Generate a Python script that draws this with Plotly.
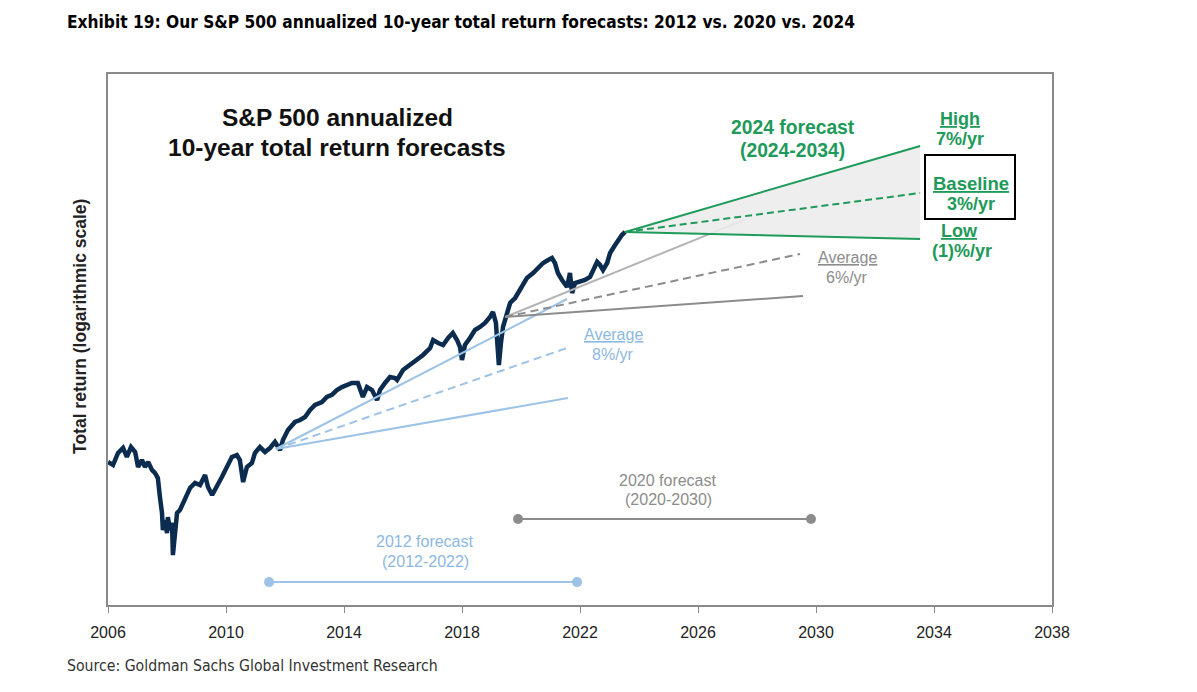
import plotly.graph_objects as go

# ---------------- data ----------------
# S&P 500 total return index (2006 = 100), decimal years
spx_years = [2006.00, 2006.17, 2006.34, 2006.51, 2006.64, 2006.78, 2006.92, 2007.02, 2007.15, 2007.25,
             2007.36, 2007.49, 2007.59, 2007.69, 2007.76, 2007.83, 2007.86, 2007.93, 2008.00, 2008.03,
             2008.10, 2008.17, 2008.20, 2008.27, 2008.34, 2008.44, 2008.61, 2008.78, 2008.95, 2009.12,
             2009.29, 2009.39, 2009.53, 2009.69, 2009.86, 2010.03, 2010.20, 2010.37, 2010.47, 2010.58,
             2010.71, 2010.88, 2010.98, 2011.15, 2011.32, 2011.49, 2011.66, 2011.83, 2011.93, 2012.10,
             2012.34, 2012.51, 2012.68, 2012.85, 2013.02, 2013.25, 2013.42, 2013.59, 2013.76, 2013.93,
             2014.10, 2014.27, 2014.47, 2014.64, 2014.78, 2014.95, 2015.12, 2015.22, 2015.39, 2015.56,
             2015.73, 2015.80, 2016.00, 2016.24, 2016.47, 2016.68, 2016.92, 2017.02, 2017.19, 2017.36,
             2017.53, 2017.69, 2017.83, 2017.93, 2018.00, 2018.10, 2018.27, 2018.44, 2018.61, 2018.78,
             2018.95, 2019.05, 2019.15, 2019.19, 2019.25, 2019.32, 2019.39, 2019.53, 2019.63, 2019.80,
             2019.90, 2020.03, 2020.20, 2020.41, 2020.58, 2020.75, 2020.92, 2021.05, 2021.15, 2021.25,
             2021.39, 2021.56, 2021.66, 2021.73, 2021.83, 2022.00, 2022.17, 2022.34, 2022.44, 2022.58,
             2022.68, 2022.78, 2022.92, 2023.02, 2023.19, 2023.29, 2023.42, 2023.53]
spx_values = [100.0, 97.8, 106.9, 110.9, 103.8, 111.7, 107.7, 96.4, 101.5, 96.4,
              100.0, 94.3, 92.2, 88.8, 77.2, 68.6, 60.4, 65.1, 59.1, 66.5,
              60.4, 63.7, 50.2, 60.4, 68.6, 70.1, 75.5, 82.5, 85.6, 84.3,
              90.8, 83.1, 78.3, 84.3, 89.5, 96.4, 103.8, 105.3, 101.5, 86.2,
              96.4, 99.3, 106.9, 111.7, 107.7, 110.9, 116.0, 109.3, 117.7, 126.7,
              134.5, 136.5, 139.5, 147.0, 152.5, 155.9, 161.8, 164.3, 170.4, 174.2,
              176.8, 179.5, 179.5, 161.8, 174.2, 170.4, 158.2, 170.4, 179.5, 187.6,
              186.2, 183.5, 197.6, 205.1, 212.8, 220.9, 232.6, 246.8, 241.3, 237.8,
              250.5, 259.9, 246.8, 234.4, 212.8, 237.8, 250.5, 265.7, 271.7, 279.9,
              292.6, 303.6, 279.9, 234.4, 205.1, 241.3, 271.7, 301.4, 324.5, 336.8,
              349.5, 370.8, 390.5, 405.3, 420.6, 436.4, 446.2, 452.9, 436.4, 405.3,
              384.8, 365.3, 405.3, 349.5, 376.3, 379.1, 384.8, 393.4, 414.3, 439.7,
              430.0, 414.3, 436.4, 469.9, 498.5, 517.3, 537.0, 549.1]

# 2012 forecast fan (start, end)
f2012_years = [2011.69, 2021.56]
f2012_high = [110.1, 334.3]
f2012_avg = [110.1, 232.6]
f2012_low_years = [2011.69, 2021.59]
f2012_low = [110.1, 160.6]

# 2020 forecast fan
f2020_high_years = [2019.46, 2027.59]
f2020_high = [292.6, 601.7]
f2020_avg_years = [2019.46, 2029.46]
f2020_avg = [292.6, 466.5]
f2020_low_years = [2019.46, 2029.56]
f2020_low = [292.6, 341.8]

# 2024 forecast fan
f2024_years = [2023.53, 2033.53]
f2024_high = [549.1, 1037.8]
f2024_base = [549.1, 732.8]
f2024_low = [549.1, 521.2]

# forecast period bars
bar2012_years = [2011.46, 2021.90]
bar2012_level = [41.1, 41.1]
bar2020_years = [2019.90, 2029.83]
bar2020_level = [65.6, 65.6]

x_ticks = [2006, 2010, 2014, 2018, 2022, 2026, 2030, 2034, 2038]

# ---------------- styles ----------------
NAVY = "#0B2C4F"
LBLUE = "#9DC3E6"
LBLUE_T = "#8DB8E2"
GRAY_L = "#B4B4B4"
GRAY_D = "#8C8C8C"
GREEN = "#1E9A5A"
FILLC = "rgba(236,236,236,0.88)"
ARIAL = "Liberation Sans, Arial, sans-serif"
NARROW = "Liberation Sans Narrow, DejaVu Sans Condensed, Roboto Condensed, Liberation Sans, sans-serif"

fig = go.Figure()

# S&P line
fig.add_trace(go.Scatter(x=spx_years, y=spx_values, mode="lines",
                         line=dict(color=NAVY, width=4.5), showlegend=False))

# 2012 fan
fig.add_trace(go.Scatter(x=f2012_years, y=f2012_high, mode="lines",
                         line=dict(color=LBLUE, width=2), showlegend=False))
fig.add_trace(go.Scatter(x=f2012_years, y=f2012_avg, mode="lines",
                         line=dict(color=LBLUE, width=2, dash="8px,5px"), showlegend=False))
fig.add_trace(go.Scatter(x=f2012_low_years, y=f2012_low, mode="lines",
                         line=dict(color=LBLUE, width=2), showlegend=False))

# 2020 fan
fig.add_trace(go.Scatter(x=f2020_high_years, y=f2020_high, mode="lines",
                         line=dict(color=GRAY_L, width=2), showlegend=False))
fig.add_trace(go.Scatter(x=f2020_avg_years, y=f2020_avg, mode="lines",
                         line=dict(color=GRAY_D, width=2, dash="8px,5px"), showlegend=False))
fig.add_trace(go.Scatter(x=f2020_low_years, y=f2020_low, mode="lines",
                         line=dict(color=GRAY_D, width=2), showlegend=False))

# shaded 2024 range (over the 2020 high line, as in the original)
fig.add_trace(go.Scatter(
    x=[f2024_years[0], f2024_years[1], f2024_years[1], f2024_years[0]],
    y=[f2024_high[0], f2024_high[1], f2024_low[1], f2024_low[0]],
    fill="toself", fillcolor=FILLC, line=dict(width=0), mode="lines",
    hoverinfo="skip", showlegend=False))

# 2024 fan
fig.add_trace(go.Scatter(x=f2024_years, y=f2024_high, mode="lines",
                         line=dict(color=GREEN, width=2), showlegend=False))
fig.add_trace(go.Scatter(x=f2024_years, y=f2024_base, mode="lines",
                         line=dict(color=GREEN, width=2, dash="7px,4px"), showlegend=False))
fig.add_trace(go.Scatter(x=f2024_years, y=f2024_low, mode="lines",
                         line=dict(color=GREEN, width=2), showlegend=False))

# period bars
fig.add_trace(go.Scatter(x=bar2012_years, y=bar2012_level, mode="lines+markers",
                         line=dict(color=LBLUE, width=2),
                         marker=dict(color=LBLUE, size=10), showlegend=False))
fig.add_trace(go.Scatter(x=bar2020_years, y=bar2020_level, mode="lines+markers",
                         line=dict(color=GRAY_D, width=2),
                         marker=dict(color=GRAY_D, size=10), showlegend=False))

# ---------------- text ----------------
L, R, T, B = 108, 1052, 74, 605


def ann(text, px, py, color, size, bold=False, family=ARIAL, xanchor="center", angle=0):
    if bold:
        text = "<b>" + text + "</b>"
    fig.add_annotation(text=text, xref="paper", yref="paper",
                       x=(px - L) / (R - L), y=(B - py) / (B - T),
                       xanchor=xanchor, yanchor="middle", showarrow=False,
                       textangle=angle,
                       font=dict(family=family, size=size, color=color))


ann("S&amp;P 500 annualized", 337, 118, "#111111", 24.5, True)
ann("10-year total return forecasts", 337, 147, "#111111", 24.5, True)
ann("2024 forecast", 793, 128, GREEN, 19.3, True)
ann("(2024-2034)", 792, 150, GREEN, 19.3, True)
ann("<u>High</u>", 960, 119, GREEN, 18, True)
ann("7%/yr", 960, 139, GREEN, 18, True)
ann("<u>Baseline</u>", 971, 183, GREEN, 18.5, True)
ann("3%/yr", 971, 204, GREEN, 18, True)
ann("<u>Low</u>", 959, 231, GREEN, 18, True)
ann("(1)%/yr", 962, 251, GREEN, 18, True)
ann("<u>Average</u>", 847, 257, GRAY_D, 16)
ann("6%/yr", 847, 277, GRAY_D, 16)
ann("<u>Average</u>", 613, 334, LBLUE_T, 16)
ann("8%/yr", 613, 354, LBLUE_T, 16)
ann("2012 forecast", 425, 541, LBLUE_T, 16)
ann("(2012-2022)", 425, 561, LBLUE_T, 16)
ann("2020 forecast", 668, 480, GRAY_D, 16)
ann("(2020-2030)", 668, 499, GRAY_D, 16)
ann("Total return (logarithmic scale)", 80, 327, "#222222", 17.5, True, angle=-90)
ann("Exhibit 19: Our S&amp;P 500 annualized 10-year total return forecasts: 2012 vs. 2020 vs. 2024",
    65, 22, "#000000", 17.2, True, family=NARROW, xanchor="left")
ann("Source: Goldman Sachs Global Investment Research", 65, 665, "#333333", 15.7,
    family=NARROW, xanchor="left")

# baseline box
fig.add_shape(type="rect", xref="paper", yref="paper",
              x0=(925 - L) / (R - L), x1=(1015 - L) / (R - L),
              y0=(B - 219) / (B - T), y1=(B - 155) / (B - T),
              line=dict(color="#000000", width=2), fillcolor="rgba(0,0,0,0)")

fig.update_layout(
    width=1197, height=692,
    margin=dict(l=L, r=1197 - R, t=T, b=692 - B),
    paper_bgcolor="white", plot_bgcolor="white",
    showlegend=False,
)
fig.update_xaxes(range=[2006, 2038], tickvals=x_ticks, ticktext=[str(t) for t in x_ticks],
                 showgrid=False, zeroline=False, showline=True, mirror=True,
                 linecolor="#8A8A8A", linewidth=1.5, ticks="outside", ticklen=6,
                 tickcolor="#8A8A8A", ticklabelstandoff=6,
                 tickfont=dict(family=ARIAL, size=16, color="#222222"))
fig.update_yaxes(type="log", range=[1.5402, 3.2476], showgrid=False, zeroline=False,
                 showline=True, mirror=True, linecolor="#8A8A8A", linewidth=1.5,
                 showticklabels=False, ticks="")

fig.write_html("out.html")
